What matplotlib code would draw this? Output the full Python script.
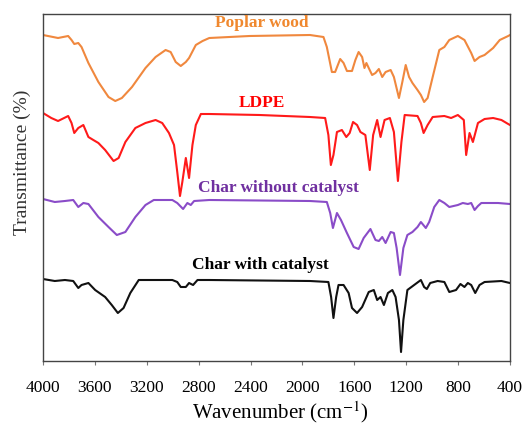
import matplotlib
matplotlib.use("Agg")
import matplotlib.pyplot as plt

# ============================================
# DATOS (leídos del espectro FTIR, transmitancia en unidades arbitrarias)
# ============================================

poplar_wn = [4000, 3884, 3806, 3780, 3759, 3728, 3703, 3650, 3573, 3495, 3443, 3392,
             3314, 3210, 3132, 3055, 3016, 2977, 2938, 2899, 2874, 2822, 2770, 2718,
             2408, 1942, 1838, 1812, 1773, 1748, 1709, 1683, 1657, 1618, 1592, 1567,
             1540, 1522, 1507, 1489, 1463, 1437, 1411, 1385, 1359, 1320, 1295, 1256,
             1230, 1204, 1178, 1152, 1113, 1087, 1062, 1035, 996, 945, 906, 868, 802,
             751, 699, 673, 635, 596, 530, 479, 414, 400]
poplar_t = [326, 323, 325, 321, 317, 318, 314, 298, 279, 264, 260, 263,
            274, 293, 304, 311, 309, 299, 295, 299, 303, 316, 320, 323,
            325, 326, 324, 314, 289, 289, 302, 298, 290, 290, 301, 309,
            304, 293, 298, 293, 286, 288, 292, 284, 289, 291, 284, 263,
            279, 296, 284, 278, 271, 266, 259, 263, 284, 311, 314, 321, 325,
            321, 308, 300, 304, 306, 313, 321, 325, 326]

ldpe_wn = [4000, 3936, 3884, 3806, 3780, 3759, 3728, 3689, 3650, 3612, 3573, 3521,
           3456, 3417, 3365, 3288, 3210, 3132, 3081, 3029, 2990, 2965, 2944, 2926,
           2899, 2874, 2848, 2822, 2783, 2718, 2330, 1942, 1825, 1800, 1781, 1761,
           1734, 1696, 1662, 1636, 1610, 1579, 1553, 1515, 1481, 1455, 1424, 1398,
           1367, 1326, 1295, 1264, 1237, 1212, 1113, 1087, 1066, 1035, 996, 906,
           854, 802, 756, 738, 712, 686, 647, 596, 530, 466, 414, 400]
ldpe_t = [248, 243, 240, 245, 238, 228, 233, 236, 224, 221, 218, 211,
          200, 203, 219, 233, 238, 241, 238, 228, 216, 189, 165, 179,
          203, 183, 216, 236, 247, 247, 246, 244, 243, 226, 196, 206,
          229, 231, 224, 228, 239, 236, 229, 226, 191, 226, 241, 224,
          241, 243, 229, 180, 219, 246, 245, 238, 228, 236, 244, 245,
          243, 246, 241, 206, 228, 219, 238, 242, 243, 241, 237, 236]

char_sin_wn = [4000, 3909, 3831, 3767, 3728, 3689, 3650, 3573, 3495, 3431, 3365, 3288,
               3210, 3146, 3003, 2965, 2920, 2887, 2861, 2835, 2718, 1942, 1812, 1786,
               1765, 1734, 1703, 1657, 1605, 1567, 1528, 1476, 1437, 1411, 1385, 1359,
               1320, 1295, 1274, 1248, 1222, 1191, 1152, 1113, 1087, 1049, 1023, 984,
               945, 906, 868, 802, 764, 725, 699, 673, 647, 621, 492, 401, 400]
char_sin_t = [162, 159, 160, 161, 154, 158, 157, 144, 134, 126, 129, 144,
              156, 161, 161, 158, 152, 158, 156, 160, 161, 160, 159, 148,
              133, 148, 141, 128, 114, 112, 123, 132, 121, 120, 124, 118,
              129, 128, 113, 86, 113, 126, 129, 134, 139, 133, 139, 154,
              161, 158, 154, 156, 158, 157, 158, 151, 155, 158, 158, 157, 157]

char_con_wn = [4000, 3909, 3831, 3767, 3728, 3703, 3650, 3598, 3521, 3470, 3423, 3379,
               3327, 3262, 3003, 2965, 2938, 2899, 2874, 2843, 2809, 2718, 1942, 1800,
               1779, 1761, 1740, 1722, 1683, 1644, 1618, 1579, 1540, 1489, 1450, 1424,
               1398, 1372, 1341, 1307, 1282, 1256, 1240, 1222, 1191, 1139, 1087, 1062,
               1041, 1015, 958, 906, 868, 816, 782, 751, 725, 699, 668, 635, 596, 466,
               401, 400]
char_con_t = [82, 80, 81, 80, 73, 76, 78, 71, 64, 56, 48, 53,
              68, 81, 81, 79, 74, 74, 78, 76, 81, 81, 80, 79,
              64, 43, 64, 76, 76, 68, 53, 48, 54, 69, 71, 61,
              64, 56, 68, 71, 64, 41, 9, 41, 71, 76, 81, 74,
              72, 78, 80, 79, 69, 71, 77, 74, 78, 76, 68, 76, 79, 80,
              78, 78]

series = [
    ("Poplar wood", poplar_wn, poplar_t, "#F0883E", "#F0882E", (262, 23)),
    ("LDPE", ldpe_wn, ldpe_t, "#FF1A1A", "#FF0000", (262, 103)),
    ("Char without catalyst", char_sin_wn, char_sin_t, "#8A4CC8", "#7030A0", (278, 188)),
    ("Char with catalyst", char_con_wn, char_con_t, "#111111", "#000000", (260, 265)),
]

ticks = [4000, 3600, 3200, 2800, 2400, 2000, 1600, 1200, 800, 400]

# ============================================
# GRÁFICO
# ============================================

W, H = 523, 429
fig = plt.figure(figsize=(W / 100, H / 100), dpi=100)
ax = fig.add_axes([43 / W, 1 - 361 / H, (510 - 43) / W, (361 - 14) / H])

serif = ["Liberation Serif", "DejaVu Serif"]

for nombre, wn, t, color, color_txt, (px, py) in series:
    ax.plot(wn, t, color=color, lw=1.5, solid_joinstyle="round")
    fig.text(px / W, 1 - py / H, nombre, color=color_txt, family=serif,
             fontsize=12.5, fontweight="bold", ha="center", va="center")

ax.set_xlim(4000, 400)
ax.set_ylim(0, 347)
ax.set_xticks(ticks)
ax.set_xticklabels([str(v) for v in ticks], family=serif, fontsize=12.5)
ax.set_yticks([])
ax.tick_params(axis="x", direction="out", length=3, width=0.8, pad=11, color="#777777")

for s in ax.spines.values():
    s.set_color("#444444")
    s.set_linewidth(1.0)

fig.text(280 / W, 1 - 412 / H, "Wavenumber (cm$^{-1}$)", family=serif,
         fontsize=15, ha="center", va="center", math_fontfamily="stix")
fig.text(22 / W, 1 - 162 / H, "Transmittance (%)", family=serif, fontsize=14,
         rotation=90, ha="center", va="center", color="#333333")

fig.savefig("out.png", dpi=100)
